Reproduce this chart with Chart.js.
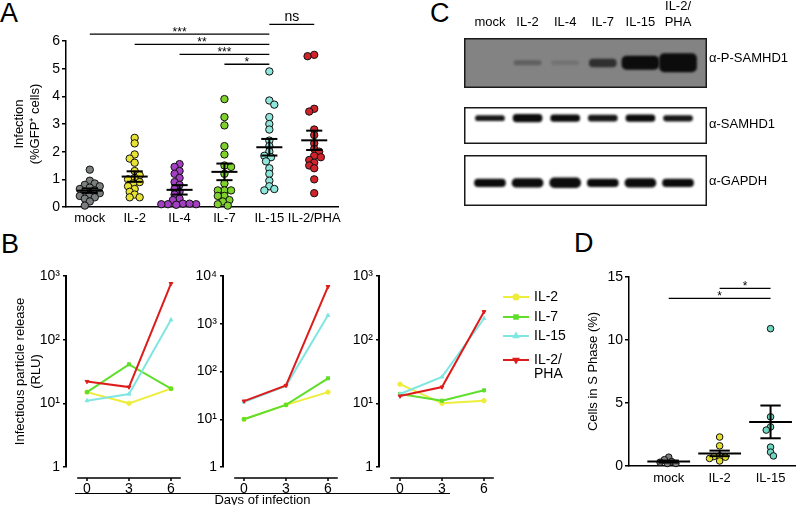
<!DOCTYPE html>
<html>
<head>
<meta charset="utf-8">
<script src="https://cdn.jsdelivr.net/npm/chart.js@4.4.1/dist/chart.umd.min.js"></script>
<style>
body { margin:0; background:#fff; width:800px; height:505px; position:relative; overflow:hidden; font-family:"Liberation Sans", Arial, sans-serif; color:#000; }
.box { position:absolute; }
.panel { position:absolute; font-size:27px; line-height:27px; }
.ab { position:absolute; font-size:13px; line-height:13px; }
</style>
</head>
<body>
<div class="panel" style="left:0px;top:0px">A</div>
<div class="panel" style="left:1px;top:231px">B</div>
<div class="panel" style="left:430px;top:0px">C</div>
<div class="panel" style="left:574px;top:230px">D</div>

<div class="box" style="left:0;top:0;width:350px;height:230px"><canvas id="chartA"></canvas></div>

<div class="box" style="left:440px;top:0;width:275px;height:92px"><canvas id="blotP"></canvas></div>
<div class="box" style="left:464px;top:107px;width:243px;height:37px"><canvas id="blotS"></canvas></div>
<div class="box" style="left:464px;top:155px;width:243px;height:51px"><canvas id="blotG"></canvas></div>
<div class="ab" style="left:709px;top:51px">&alpha;-P-SAMHD1</div>
<div class="ab" style="left:709px;top:117px">&alpha;-SAMHD1</div>
<div class="ab" style="left:709px;top:174px">&alpha;-GAPDH</div>

<div class="box" style="left:0;top:260px;width:200px;height:245px"><canvas id="chartB1"></canvas></div>
<div class="box" style="left:173px;top:260px;width:175px;height:245px"><canvas id="chartB2"></canvas></div>
<div class="box" style="left:329px;top:260px;width:260px;height:245px"><canvas id="chartB3"></canvas></div>
<div class="box" style="left:75px;top:493px;width:375px;border-top:1.5px solid #000;text-align:center;font-size:13px;line-height:11px;padding-top:0">Days of infection</div>

<div class="box" style="left:580px;top:230px;width:220px;height:275px"><canvas id="chartD"></canvas></div>

<script>
// ---- panel A: infection (%GFP+ cells) ----
const groupsA = ['mock', 'IL-2', 'IL-4', 'IL-7', 'IL-15', 'IL-2/PHA'];
const mockA = [1.35, 0.95, 0.85, 0.8, 0.75, 0.7, 0.65, 0.6, 0.55, 0.5, 0.45, 0.4, 0.35, 0.3, 0.2, 0.05];
const il2A = [2.5, 2.3, 1.9, 1.75, 1.6, 1.3, 1.15, 1.05, 1.0, 0.9, 0.85, 0.75, 0.65, 0.55, 0.45, 0.35, 0.35];
const il4A = [1.55, 1.45, 1.3, 1.2, 1.05, 0.9, 0.8, 0.65, 0.55, 0.45, 0.3, 0.25, 0.12, 0.1, 0.1, 0.12, 0.1, 0.08];
const il7A = [3.9, 3.25, 2.95, 2.2, 1.9, 1.5, 1.45, 1.2, 0.85, 0.6, 0.6, 0.6, 0.4, 0.4, 0.25, 0.2, 0.1, 0.05];
const il15A = [4.9, 3.85, 3.7, 3.25, 3.0, 2.8, 2.4, 2.2, 2.0, 1.85, 1.8, 1.65, 1.4, 1.2, 0.95, 0.75, 0.65, 0.6];
const phaA = [5.5, 5.45, 3.55, 3.45, 2.8, 2.6, 2.3, 2.1, 2.0, 1.85, 1.8, 1.7, 1.6, 1.5, 1.4, 1.0, 0.5];
const meansA = [0.59, 1.1, 0.62, 1.27, 2.16, 2.41];
const semsA = [0.08, 0.19, 0.17, 0.3, 0.3, 0.35];
const colorsA = ['#7b7f7f', '#e8e233', '#a23fc2', '#7fd22b', '#8fe6da', '#d1232b'];
const sigFromA = [0, 1, 2, 3, 4];
const sigToA = [4, 4, 4, 4, 5];
const sigLevelA = [6.25, 5.88, 5.52, 5.16, 6.6];
const sigTextA = ['***', '**', '***', '*', 'ns'];

// ---- panel B: infectious particle release (RLU), three donors ----
const daysB = [0, 3, 6];
const seriesB = ['IL-2', 'IL-7', 'IL-15', 'IL-2/PHA'];
const donor1IL2 = [15, 10, 17];
const donor1IL7 = [15, 41, 17];
const donor1IL15 = [11, 14, 205];
const donor1PHA = [22, 18, 760];
const donor2IL2 = [10, 20, 37];
const donor2IL7 = [10, 20, 72];
const donor2IL15 = [23, 50, 1500];
const donor2PHA = [24, 51, 6000];
const donor3IL2 = [20, 10, 11];
const donor3IL7 = [14, 11, 16];
const donor3IL15 = [14, 26, 215];
const donor3PHA = [13, 18, 275];
const colorsB = ['#eded3c', '#5fdf2a', '#80e6e2', '#df1c1c'];
const styleB = ['circle', 'rect', 'triangle', 'triangle'];
const logTicks = ['1', '10\u00b9', '10\u00b2', '10\u00b3', '10\u2074'];

// ---- panel C: western blot bands [low, high] in lane height, darkness 0-1 ----
const lanes = ['mock', 'IL-2', 'IL-4', 'IL-7', 'IL-15', 'IL-2/PHA'];
const pSamhdBand = [null, [0.46, 0.55], [0.47, 0.54], [0.42, 0.58], [0.37, 0.64], [0.32, 0.69]];
const pSamhdDark = [0, 0.3, 0.15, 0.7, 1, 1];
const samhdBand = [[0.63, 0.77], [0.6, 0.8], [0.61, 0.79], [0.62, 0.78], [0.61, 0.79], [0.62, 0.77]];
const samhdDark = [0.95, 1, 1, 0.95, 1, 0.95];
const gapdhBand = [[0.38, 0.53], [0.37, 0.54], [0.36, 0.55], [0.38, 0.53], [0.37, 0.54], [0.38, 0.53]];
const gapdhDark = [1, 1, 1, 1, 1, 1];

// ---- panel D: cells in S phase (%) ----
const groupsD = ['mock', 'IL-2', 'IL-15'];
const mockD = [0.7, 0.5, 0.35, 0.3, 0.2, 0.2];
const il2D = [2.3, 1.6, 0.8, 0.75, 0.7, 0.6, 0.4];
const il15D = [10.9, 3.9, 3.1, 2.85, 1.5, 1.1, 0.8];
const meansD = [0.35, 1.0, 3.5];
const semsD = [0.08, 0.22, 1.3];
const colorsD = ['#7d7d7d', '#e4e02c', '#6fd7c1'];
const sigFromD = [0, 1];
const sigToD = [2, 2];
const sigLevelD = [13.3, 14.1];
const sigTextD = ['*', '*'];

const FONT = '"Liberation Sans", Arial, sans-serif';
Chart.defaults.font.family = FONT;
Chart.defaults.color = '#000';
Chart.defaults.animation = false;

// beeswarm offsets (in category units); dots may overlap a little, like the original
function swarm(vals, pxPerX, pxPerY, r) {
    const placed = [];
    const off = new Array(vals.length).fill(0);
    const order = vals.map((v, i) => i).sort((a, b) => vals[b] - vals[a]);
    const minD = 2 * r * 0.72;
    let side = 1;
    order.forEach(i => {
        const y = vals[i] * pxPerY;
        for (let k = 0; k < 80; k++) {
            const cx = k === 0 ? 0 : side * (k % 2 ? 1 : -1) * Math.ceil(k / 2) * r * 0.45;
            if (placed.every(p => (p.x - cx) ** 2 + (p.y - y) ** 2 >= minD * minD)) {
                placed.push({ x: cx, y: y });
                off[i] = cx / pxPerX;
                break;
            }
        }
        side = -side;
    });
    return off;
}

function meanSem(means, sems, halfW, capW) {
    return {
        id: 'meanSem',
        afterDatasetsDraw(chart) {
            const { ctx, scales: { x, y } } = chart;
            ctx.save();
            ctx.strokeStyle = '#000';
            ctx.lineWidth = 2;
            const seg = (x1, v1, x2, v2) => {
                ctx.beginPath();
                ctx.moveTo(x.getPixelForValue(x1), y.getPixelForValue(v1));
                ctx.lineTo(x.getPixelForValue(x2), y.getPixelForValue(v2));
                ctx.stroke();
            };
            means.forEach((m, i) => {
                const s = sems[i];
                seg(i - halfW, m, i + halfW, m);
                seg(i, m - s, i, m + s);
                seg(i - capW, m + s, i + capW, m + s);
                seg(i - capW, m - s, i + capW, m - s);
            });
            ctx.restore();
        }
    };
}

function sigBars(from, to, level, text) {
    return {
        id: 'sigBars',
        afterDraw(chart) {
            const { ctx, scales: { x, y } } = chart;
            ctx.save();
            ctx.strokeStyle = '#000';
            ctx.fillStyle = '#000';
            ctx.lineWidth = 1.3;
            ctx.textAlign = 'center';
            ctx.textBaseline = 'alphabetic';
            from.forEach((f, i) => {
                const x1 = x.getPixelForValue(f), x2 = x.getPixelForValue(to[i]);
                const yy = y.getPixelForValue(level[i]);
                ctx.beginPath();
                ctx.moveTo(x1, yy);
                ctx.lineTo(x2, yy);
                ctx.stroke();
                if (text[i] === 'ns') {
                    ctx.font = '14px ' + FONT;
                    ctx.fillText(text[i], (x1 + x2) / 2, yy - 3);
                } else {
                    ctx.font = '12px ' + FONT;
                    ctx.fillText(text[i], (x1 + x2) / 2, yy + 2);
                }
            });
            ctx.restore();
        }
    };
}

function catTicks(names) {
    return s => { s.ticks = names.map((n, i) => ({ value: i })); };
}

// ---- chart A ----
const valsA = [mockA, il2A, il4A, il7A, il15A, phaA];
new Chart(document.getElementById('chartA'), {
    type: 'scatter',
    data: {
        datasets: valsA.map((vals, i) => {
            const off = swarm(vals, 45, 27.7, 3.7);
            return {
                data: vals.map((v, k) => ({ x: i + off[k], y: v })),
                backgroundColor: colorsA[i],
                borderColor: '#111',
                borderWidth: 1,
                pointRadius: 3.7,
                clip: false
            };
        })
    },
    options: {
        responsive: true,
        maintainAspectRatio: false,
        layout: { padding: { top: 41, right: 12, left: 0, bottom: 0 } },
        plugins: { legend: { display: false }, tooltip: { enabled: false } },
        scales: {
            x: {
                type: 'linear', min: -0.53, max: 5.53,
                afterBuildTicks: catTicks(groupsA),
                ticks: { callback: v => groupsA[v], autoSkip: false, maxRotation: 0, font: { size: 13 }, padding: 4 },
                grid: { display: false, drawTicks: false },
                border: { color: '#000', width: 1.5 },
                afterFit: s => { s.height = 23; }
            },
            y: {
                min: 0, max: 6,
                ticks: { stepSize: 1, font: { size: 14 }, padding: 2 },
                grid: { drawOnChartArea: false, tickLength: 4, color: '#000', lineWidth: 1.5 },
                border: { color: '#000', width: 1.5 },
                title: { display: true, text: ['Infection', '(%GFP\u207a cells)'], font: { size: 13 }, padding: { top: 12, bottom: 0 } },
                afterFit: s => { s.width = 66; }
            }
        }
    },
    plugins: [meanSem(meansA, semsA, 0.29, 0.18), sigBars(sigFromA, sigToA, sigLevelA, sigTextA)]
});

// ---- charts B ----
const offsetXAxis = {
    id: 'offsetXAxis',
    afterDraw(chart) {
        const { ctx, chartArea, scales: { x } } = chart;
        const yy = chartArea.bottom + 11;
        ctx.save();
        ctx.strokeStyle = '#000';
        ctx.lineWidth = 1.5;
        ctx.beginPath();
        ctx.moveTo(x.getPixelForValue(-0.7), yy);
        ctx.lineTo(x.getPixelForValue(6.7), yy);
        daysB.forEach(d => {
            ctx.moveTo(x.getPixelForValue(d), yy);
            ctx.lineTo(x.getPixelForValue(d), yy + 3);
        });
        ctx.stroke();
        ctx.restore();
    }
};

const legendB = {
    id: 'legendB',
    afterDraw(chart) {
        const { ctx } = chart;
        const names = [['IL-2'], ['IL-7'], ['IL-15'], ['IL-2/', 'PHA']];
        const rows = [37, 57, 76, 100];
        ctx.save();
        names.forEach((lines, i) => {
            const ds = chart.data.datasets[i];
            const yy = rows[i];
            ctx.strokeStyle = colorsB[i];
            ctx.lineWidth = 2;
            ctx.beginPath();
            ctx.moveTo(174, yy);
            ctx.lineTo(200, yy);
            ctx.stroke();
            ctx.fillStyle = colorsB[i];
            Chart.helpers.drawPoint(ctx, { pointStyle: ds.pointStyle, radius: 2.5, rotation: ds.rotation || 0, borderWidth: 1 }, 187, yy);
            ctx.fillStyle = '#000';
            ctx.font = '14px ' + FONT;
            ctx.textBaseline = 'middle';
            lines.forEach((t, k) => ctx.fillText(t, 205, yy + k * 14));
        });
        ctx.restore();
    }
};

function makeB(id, sets, maxExp, yWidth, padRight, title, extra) {
    const yTitle = title
        ? { display: true, text: ['Infectious particle release', '(RLU)'], font: { size: 13 }, padding: { top: 13, bottom: 0 } }
        : { display: false };
    return new Chart(document.getElementById(id), {
        type: 'line',
        data: {
            datasets: sets.map((vals, i) => ({
                label: seriesB[i],
                data: vals.map((v, k) => ({ x: daysB[k], y: v })),
                borderColor: colorsB[i],
                backgroundColor: colorsB[i],
                borderWidth: 2,
                pointStyle: styleB[i],
                rotation: i === 3 ? 180 : 0,
                pointRadius: 2.2,
                pointBorderWidth: 1,
                order: 3 - i,
                clip: false
            }))
        },
        options: {
            responsive: true,
            maintainAspectRatio: false,
            layout: { padding: { top: 16, right: padRight, left: 0, bottom: 0 } },
            plugins: { legend: { display: false }, tooltip: { enabled: false } },
            scales: {
                x: {
                    type: 'linear', min: -1.5, max: 7,
                    afterBuildTicks: s => { s.ticks = daysB.map(d => ({ value: d })); },
                    ticks: { font: { size: 14 }, padding: 14, maxRotation: 0 },
                    grid: { display: false, drawTicks: false },
                    border: { display: false },
                    afterFit: s => { s.height = 38; }
                },
                y: {
                    type: 'logarithmic', min: 1, max: Math.pow(10, maxExp),
                    afterBuildTicks: s => {
                        s.ticks = [];
                        for (let e = 0; e <= maxExp; e++) s.ticks.push({ value: Math.pow(10, e) });
                    },
                    ticks: { callback: v => logTicks[Math.round(Math.log10(v))], font: { size: 14 }, padding: 3 },
                    grid: { drawOnChartArea: false, tickLength: 3, color: '#000', lineWidth: 1.5 },
                    border: { color: '#000', width: 2 },
                    title: yTitle,
                    afterFit: s => { s.width = yWidth; }
                }
            }
        },
        plugins: [offsetXAxis].concat(extra || [])
    });
}

makeB('chartB1', [donor1IL2, donor1IL7, donor1IL15, donor1PHA], 3, 66, 15, true);
makeB('chartB2', [donor2IL2, donor2IL7, donor2IL15, donor2PHA], 4, 50, 6, false);
makeB('chartB3', [donor3IL2, donor3IL7, donor3IL15, donor3PHA], 3, 50, 91, false, [legendB]);

// ---- blots C ----
const blurBands = {
    id: 'blurBands',
    beforeDatasetsDraw(chart) { chart.ctx.save(); chart.ctx.filter = 'blur(1.1px)'; },
    afterDatasetsDraw(chart) { chart.ctx.restore(); }
};

function blotFrame(bg) {
    return {
        id: 'blotFrame',
        beforeDatasetsDraw(chart) {
            const { ctx, chartArea: a } = chart;
            ctx.save();
            ctx.fillStyle = bg;
            ctx.fillRect(a.left, a.top, a.width, a.height);
            ctx.restore();
        },
        afterDraw(chart) {
            const { ctx, chartArea: a } = chart;
            ctx.save();
            ctx.strokeStyle = '#1a1a1a';
            ctx.lineWidth = 1.5;
            ctx.strokeRect(a.left + 0.75, a.top + 0.75, a.width - 1.5, a.height - 1.5);
            ctx.restore();
        }
    };
}

function bandSets(bands, dark, widths, pick) {
    return widths.map((w, j) => ({
        data: bands.map((b, i) => (b && pick[i] === j) ? { x: i, y: b } : null).filter(Boolean),
        backgroundColor: ctx => ctx.raw ? 'rgba(12,12,12,' + dark[ctx.raw.x] + ')' : 'rgba(0,0,0,0)',
        borderRadius: 5,
        borderSkipped: false,
        barThickness: w,
        grouped: false
    }));
}

function blotScales(showTop) {
    const x = {
        type: 'linear', min: -0.69, max: 5.77,
        offset: false,
        position: 'top',
        display: showTop,
        afterBuildTicks: catTicks(lanes),
        ticks: {
            callback: v => lanes[v] === 'IL-2/PHA' ? ['IL-2/', 'PHA'] : lanes[v],
            font: { size: 13 }, padding: 8, maxRotation: 0, autoSkip: false
        },
        grid: { display: false, drawTicks: false, offset: false },
        border: { display: false }
    };
    if (showTop) x.afterFit = s => { s.height = 38; };
    return { x: x, y: { min: 0, max: 1, display: false } };
}

new Chart(document.getElementById('blotP'), {
    type: 'bar',
    data: { datasets: bandSets(pSamhdBand, pSamhdDark, [27, 37], [0, 0, 0, 0, 1, 1]) },
    options: {
        responsive: true, maintainAspectRatio: false,
        layout: { padding: { left: 24, right: 8, top: 0, bottom: 4 } },
        plugins: { legend: { display: false }, tooltip: { enabled: false } },
        scales: blotScales(true)
    },
    plugins: [blotFrame('#838383'), blurBands]
});

[['blotS', samhdBand, samhdDark, 29], ['blotG', gapdhBand, gapdhDark, 31]].forEach(([id, bands, dark, w]) => {
    new Chart(document.getElementById(id), {
        type: 'bar',
        data: { datasets: bandSets(bands, dark, [w], [0, 0, 0, 0, 0, 0]) },
        options: {
            responsive: true, maintainAspectRatio: false,
            layout: { padding: 0 },
            plugins: { legend: { display: false }, tooltip: { enabled: false } },
            scales: blotScales(false)
        },
        plugins: [blotFrame('#ffffff'), blurBands]
    });
});

// ---- chart D ----
const valsD = [mockD, il2D, il15D];
new Chart(document.getElementById('chartD'), {
    type: 'scatter',
    data: {
        datasets: valsD.map((vals, i) => {
            const off = swarm(vals, 52.5, 12.6, 3.3);
            return {
                data: vals.map((v, k) => ({ x: i + off[k], y: v })),
                backgroundColor: colorsD[i],
                borderColor: '#111',
                borderWidth: 1,
                pointRadius: 3.3,
                clip: false
            };
        })
    },
    options: {
        responsive: true,
        maintainAspectRatio: false,
        layout: { padding: { top: 47, right: 0, left: 0, bottom: 0 } },
        plugins: { legend: { display: false }, tooltip: { enabled: false } },
        scales: {
            x: {
                type: 'linear', min: -0.78, max: 2.48,
                afterBuildTicks: catTicks(groupsD),
                ticks: { callback: v => groupsD[v], autoSkip: false, maxRotation: 0, font: { size: 13 }, padding: 5 },
                grid: { display: false, drawTicks: false },
                border: { color: '#000', width: 1.5 },
                afterFit: s => { s.height = 39; }
            },
            y: {
                min: 0, max: 15,
                ticks: { stepSize: 5, font: { size: 14 }, padding: 2 },
                grid: { drawOnChartArea: false, tickLength: 4, color: '#000', lineWidth: 1.5 },
                border: { color: '#000', width: 1.5 },
                title: { display: true, text: 'Cells in S Phase (%)', font: { size: 13 }, padding: { top: 6, bottom: 0 } },
                afterFit: s => { s.width = 49; }
            }
        }
    },
    plugins: [meanSem(meansD, semsD, 0.42, 0.2), sigBars(sigFromD, sigToD, sigLevelD, sigTextD)]
});
</script>
</body>
</html>
